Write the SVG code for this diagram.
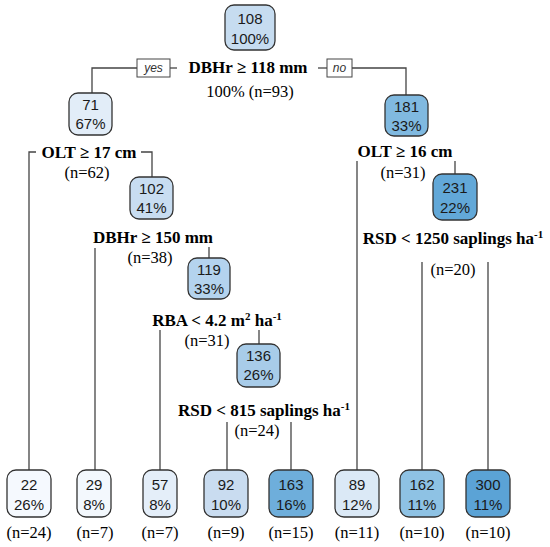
<svg xmlns="http://www.w3.org/2000/svg" width="550" height="547" viewBox="0 0 550 547">
<style>
.bg{fill:#ffffff}
.box{stroke:#333333;stroke-width:1.3}
.nt{font-family:"Liberation Sans",Arial,sans-serif;font-size:15px;fill:#1a1a1a;text-anchor:middle}
.split{font-family:"Liberation Serif","Times New Roman",serif;font-size:17px;font-weight:bold;fill:#000;text-anchor:middle}
.n{font-family:"Liberation Serif","Times New Roman",serif;font-size:16.5px;fill:#000;text-anchor:middle}
.lbl{font-family:"Liberation Sans",Arial,sans-serif;font-size:12px;font-style:italic;fill:#333;text-anchor:middle}
.edge{fill:none;stroke:#444444;stroke-width:1.3}
</style>
<rect class="bg" x="0" y="0" width="550" height="547"/>
<g id="connectors">
<path class="edge" d="M137,68 H92 V93"/>
<path class="edge" d="M170,68 H177"/>
<path class="edge" d="M318,68 H327"/>
<path class="edge" d="M352,68 H406 V95"/>
<path class="edge" d="M36,152 H29 V470"/>
<path class="edge" d="M141,152 H152 V177"/>
<path class="edge" d="M95,248 V470"/>
<path class="edge" d="M209,247 V258"/>
<path class="edge" d="M160,330 V470"/>
<path class="edge" d="M259,330 V344"/>
<path class="edge" d="M227,422 V470"/>
<path class="edge" d="M291,422 V470"/>
<path class="edge" d="M357,161 V470"/>
<path class="edge" d="M455,161 V174"/>
<path class="edge" d="M422,262 V470"/>
<path class="edge" d="M488,262 V470"/>
</g>
<g id="edge-labels">
<rect x="137" y="59" width="33" height="18" fill="#ffffff" stroke="#444" stroke-width="1"/>
<text class="lbl" x="153.5" y="72">yes</text>
<rect x="327" y="59" width="25" height="18" fill="#ffffff" stroke="#444" stroke-width="1"/>
<text class="lbl" x="339.5" y="72">no</text>
</g>
<g id="node-root">
<rect class="box" x="225" y="5" width="50" height="45" rx="9" fill="#c6dcf0"/>
<text class="nt" x="250" y="24">108</text>
<text class="nt" x="250" y="44">100%</text>
<text class="split" x="248" y="73">DBHr ≥ 118 mm</text>
<text class="n" x="250" y="97">100% (n=93)</text>
</g>
<g id="node-71">
<rect class="box" x="69" y="93" width="43" height="42" rx="9" fill="#e2edf8"/>
<text class="nt" x="90.5" y="110">71</text>
<text class="nt" x="90.5" y="129">67%</text>
<text class="split" x="89" y="158">OLT ≥ 17 cm</text>
<text class="n" x="87" y="178">(n=62)</text>
</g>
<g id="node-102">
<rect class="box" x="130" y="177" width="43" height="42" rx="9" fill="#c8ddf1"/>
<text class="nt" x="151.5" y="194">102</text>
<text class="nt" x="151.5" y="213">41%</text>
<text class="split" x="153" y="243">DBHr ≥ 150 mm</text>
<text class="n" x="150" y="263">(n=38)</text>
</g>
<g id="node-119">
<rect class="box" x="188" y="258" width="42" height="41" rx="9" fill="#b4d3ee"/>
<text class="nt" x="209" y="275">119</text>
<text class="nt" x="209" y="294">33%</text>
<text class="split" x="217" y="326">RBA &lt; 4.2 m<tspan font-size="11" dy="-6">2</tspan><tspan dy="6"> ha</tspan><tspan font-size="11" dy="-6">-1</tspan></text>
<text class="n" x="207" y="346">(n=31)</text>
</g>
<g id="node-136">
<rect class="box" x="237" y="344" width="43" height="43" rx="9" fill="#a8cce9"/>
<text class="nt" x="258.5" y="361">136</text>
<text class="nt" x="258.5" y="380">26%</text>
<text class="split" x="264" y="416">RSD &lt; 815 saplings ha<tspan font-size="11" dy="-6">-1</tspan></text>
<text class="n" x="257" y="436">(n=24)</text>
</g>
<g id="node-181">
<rect class="box" x="385" y="95" width="43" height="41" rx="9" fill="#80b9e0"/>
<text class="nt" x="406.5" y="112">181</text>
<text class="nt" x="406.5" y="131">33%</text>
<text class="split" x="405" y="157">OLT ≥ 16 cm</text>
<text class="n" x="403" y="178">(n=31)</text>
</g>
<g id="node-231">
<rect class="box" x="433" y="174" width="44" height="46" rx="9" fill="#62a8d8"/>
<text class="nt" x="455" y="193">231</text>
<text class="nt" x="455" y="213">22%</text>
<text class="split" x="453" y="244">RSD &lt; 1250 saplings ha<tspan font-size="11" dy="-6">-1</tspan></text>
<text class="n" x="453" y="275">(n=20)</text>
</g>
<g id="leaf-22">
<rect class="box" x="7" y="470" width="44" height="47" rx="9" fill="#f5f9fe"/>
<text class="nt" x="29" y="490">22</text>
<text class="nt" x="29" y="510">26%</text>
<text class="n" x="29" y="538">(n=24)</text>
</g>
<g id="leaf-29">
<rect class="box" x="77" y="470" width="34" height="47" rx="9" fill="#f3f8fd"/>
<text class="nt" x="94" y="490">29</text>
<text class="nt" x="94" y="510">8%</text>
<text class="n" x="95" y="538">(n=7)</text>
</g>
<g id="leaf-57">
<rect class="box" x="143" y="470" width="34" height="47" rx="9" fill="#e4eef9"/>
<text class="nt" x="160" y="490">57</text>
<text class="nt" x="160" y="510">8%</text>
<text class="n" x="160" y="538">(n=7)</text>
</g>
<g id="leaf-92">
<rect class="box" x="204" y="470" width="44" height="47" rx="9" fill="#c9dcf0"/>
<text class="nt" x="226" y="490">92</text>
<text class="nt" x="226" y="510">10%</text>
<text class="n" x="226" y="538">(n=9)</text>
</g>
<g id="leaf-163">
<rect class="box" x="269" y="470" width="44" height="47" rx="9" fill="#6eaedb"/>
<text class="nt" x="291" y="490">163</text>
<text class="nt" x="291" y="510">16%</text>
<text class="n" x="291" y="538">(n=15)</text>
</g>
<g id="leaf-89">
<rect class="box" x="335" y="470" width="44" height="47" rx="9" fill="#dbe9f6"/>
<text class="nt" x="357" y="490">89</text>
<text class="nt" x="357" y="510">12%</text>
<text class="n" x="357" y="538">(n=11)</text>
</g>
<g id="leaf-162">
<rect class="box" x="400" y="470" width="44" height="47" rx="9" fill="#8ec2e4"/>
<text class="nt" x="422" y="490">162</text>
<text class="nt" x="422" y="510">11%</text>
<text class="n" x="422" y="538">(n=10)</text>
</g>
<g id="leaf-300">
<rect class="box" x="466" y="470" width="44" height="47" rx="9" fill="#5ba3d6"/>
<text class="nt" x="488" y="490">300</text>
<text class="nt" x="488" y="510">11%</text>
<text class="n" x="488" y="538">(n=10)</text>
</g>
</svg>
